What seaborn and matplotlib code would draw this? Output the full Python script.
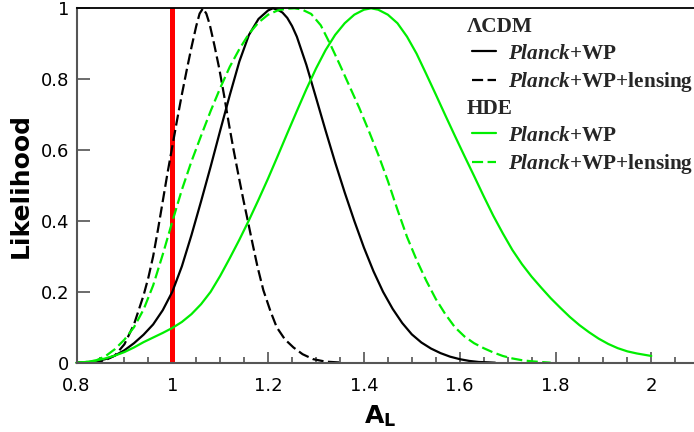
import matplotlib
matplotlib.use("Agg")
import matplotlib.pyplot as plt
import seaborn as sns
from matplotlib.ticker import MultipleLocator, FuncFormatter

sns.set_theme(style="white")
plt.rcParams['font.family'] = ['DejaVu Sans']
plt.rcParams['mathtext.fontset'] = 'custom'
plt.rcParams['mathtext.it'] = 'Liberation Serif:italic:bold'
plt.rcParams['mathtext.rm'] = 'Liberation Serif:bold'
plt.rcParams['mathtext.bf'] = 'Liberation Serif:bold'
plt.rcParams['mathtext.sf'] = 'DejaVu Sans:bold'

# Marginalised likelihood of the lensing amplitude A_L
lcdm_wp_x = [0.80, 0.82, 0.84, 0.86, 0.88, 0.90, 0.92, 0.94, 0.96, 0.98, 1.00, 1.02, 1.04,
             1.06, 1.08, 1.10, 1.12, 1.14, 1.16, 1.18, 1.20, 1.21, 1.22, 1.23, 1.24, 1.25,
             1.26, 1.28, 1.30, 1.32, 1.34, 1.36, 1.38, 1.40, 1.42, 1.44, 1.46, 1.48, 1.50,
             1.52, 1.54, 1.56, 1.58, 1.60, 1.62, 1.64, 1.66, 1.674]
lcdm_wp_y = [0.000, 0.001, 0.004, 0.010, 0.020, 0.035, 0.055, 0.079, 0.108, 0.148, 0.200, 0.272,
             0.360, 0.455, 0.553, 0.655, 0.755, 0.850, 0.925, 0.970, 0.994, 1.000, 0.996, 0.988,
             0.973, 0.950, 0.920, 0.840, 0.748, 0.655, 0.565, 0.480, 0.400, 0.325, 0.258,
             0.200, 0.152, 0.112, 0.080, 0.057, 0.040, 0.027, 0.017, 0.010, 0.005, 0.002,
             0.001, 0.000]

lcdm_lens_x = [0.80, 0.82, 0.84, 0.86, 0.88, 0.90, 0.92, 0.94, 0.95, 0.96, 0.97, 0.98, 0.99,
               1.00, 1.01, 1.02, 1.03, 1.04, 1.05, 1.057, 1.064, 1.071, 1.078, 1.088, 1.098,
               1.108, 1.118, 1.128, 1.138, 1.148, 1.158, 1.168, 1.178, 1.190, 1.205, 1.218,
               1.235, 1.253, 1.272, 1.294, 1.320, 1.357]
lcdm_lens_y = [0.000, 0.001, 0.002, 0.007, 0.020, 0.052, 0.108, 0.190, 0.240, 0.300, 0.375, 0.455,
               0.535, 0.610, 0.685, 0.757, 0.825, 0.890, 0.950, 0.985, 1.000, 0.985, 0.955,
               0.895, 0.830, 0.755, 0.675, 0.600, 0.530, 0.462, 0.398, 0.333, 0.270, 0.205,
               0.145, 0.100, 0.066, 0.043, 0.024, 0.010, 0.003, 0.000]

hde_wp_x = [0.80, 0.82, 0.84, 0.86, 0.88, 0.90, 0.92, 0.94, 0.96, 0.98, 1.00, 1.02, 1.04, 1.06,
            1.08, 1.10, 1.12, 1.14, 1.16, 1.18, 1.20, 1.22, 1.24, 1.26, 1.28, 1.30, 1.32, 1.34,
            1.36, 1.38, 1.40, 1.415, 1.43, 1.45, 1.47, 1.49, 1.51, 1.53, 1.55, 1.57, 1.59,
            1.61, 1.63, 1.65, 1.67, 1.69, 1.71, 1.73, 1.75, 1.77, 1.79, 1.81, 1.83, 1.85,
            1.87, 1.89, 1.91, 1.93, 1.95, 1.97, 2.00]
hde_wp_y = [0.000, 0.002, 0.006, 0.012, 0.020, 0.030, 0.043, 0.058, 0.071, 0.084, 0.098, 0.115,
            0.137, 0.165, 0.200, 0.245, 0.295, 0.347, 0.402, 0.460, 0.520, 0.583, 0.647, 0.710,
            0.772, 0.830, 0.882, 0.925, 0.958, 0.982, 0.996, 1.000, 0.996, 0.982, 0.958, 0.920,
            0.872, 0.815, 0.757, 0.698, 0.640, 0.583, 0.527, 0.470, 0.415, 0.365, 0.318, 0.278,
            0.243, 0.212, 0.182, 0.155, 0.129, 0.106, 0.086, 0.068, 0.053, 0.041, 0.032, 0.026,
            0.019]

hde_lens_x = [0.80, 0.82, 0.84, 0.86, 0.88, 0.90, 0.92, 0.94, 0.96, 0.98, 1.00, 1.02, 1.04, 1.06,
              1.08, 1.10, 1.12, 1.14, 1.16, 1.18, 1.20, 1.22, 1.24, 1.255, 1.27, 1.29, 1.31,
              1.33, 1.35, 1.37, 1.39, 1.41, 1.43, 1.45, 1.47, 1.49, 1.51, 1.53, 1.55, 1.57,
              1.59, 1.61, 1.63, 1.65, 1.67, 1.69, 1.71, 1.73, 1.75, 1.77, 1.79]
hde_lens_y = [0.000, 0.002, 0.006, 0.018, 0.038, 0.065, 0.100, 0.150, 0.218, 0.305, 0.398, 0.488,
              0.568, 0.640, 0.710, 0.775, 0.835, 0.885, 0.928, 0.960, 0.982, 0.994, 0.999, 1.000,
              0.997, 0.984, 0.952, 0.898, 0.840, 0.780, 0.720, 0.655, 0.587, 0.513, 0.432,
              0.355, 0.290, 0.232, 0.180, 0.137, 0.100, 0.074, 0.055, 0.041, 0.029, 0.019,
              0.012, 0.007, 0.004, 0.002, 0.000]

reference_AL = 1.0
model_names = ["\u039bCDM", "HDE"]
dataset_labels = [r"$\mathit{Planck}$+WP", r"$\mathit{Planck}$+WP+lensing"]

GREEN = "#00ee00"
DASH = (0, (5, 2))

fig = plt.figure(figsize=(6.94, 4.32), dpi=100)
ax = fig.add_axes([76.5 / 694, (432 - 362.7) / 432, (694 - 76.5) / 694, (362.7 - 8.3) / 432])

ax.axvline(reference_AL, color="red", lw=3.6, zorder=1.5)

curves = [
    (lcdm_wp_x, lcdm_wp_y, "black", "-"),
    (lcdm_lens_x, lcdm_lens_y, "black", DASH),
    (hde_wp_x, hde_wp_y, GREEN, "-"),
    (hde_lens_x, hde_lens_y, GREEN, DASH),
]
handles = []
for xs, ys, col, ls in curves:
    sns.lineplot(x=xs, y=ys, ax=ax, color=col, linestyle=ls, lw=1.6,
                 estimator=None, sort=False, zorder=2, clip_on=False)
    handles.append(ax.lines[-1])

ax.set_xlim(0.8, 0.8 + 617.5 / 479)
ax.set_ylim(0, 1)

ax.xaxis.set_major_locator(MultipleLocator(0.2))
ax.xaxis.set_minor_locator(MultipleLocator(0.05))
ax.yaxis.set_major_locator(MultipleLocator(0.2))
fmt = FuncFormatter(lambda v, p: f"{v:g}")
ax.xaxis.set_major_formatter(fmt)
ax.yaxis.set_major_formatter(fmt)

ax.tick_params(axis="x", which="major", direction="in", length=8, width=1.1,
               color="#444444", labelsize=13, pad=10, labelcolor="black", bottom=True)
ax.tick_params(axis="x", which="minor", direction="in", length=4.5, width=1.1,
               color="#444444", bottom=True)
ax.tick_params(axis="y", which="major", direction="in", length=9, width=1.1,
               color="#444444", labelsize=13, pad=5, labelcolor="black", left=True)

for side in ["left", "bottom"]:
    ax.spines[side].set_color("#555555")
    ax.spines[side].set_linewidth(1.5)
ax.spines["top"].set_color("black")
ax.spines["top"].set_linewidth(1.3)
ax.spines["right"].set_visible(False)

ax.set_ylabel("Likelihood", fontsize=18, fontweight="bold", labelpad=6, color="black")
ax.set_xlabel(r"$\mathsf{A}_{\mathsf{L}}$", fontsize=18, labelpad=6, color="black",
              x=(380 - 76.5) / 617.5)

leg_kw = dict(frameon=False, loc="upper left", borderpad=0, borderaxespad=0,
              handlelength=1.15, handletextpad=0.55, labelspacing=0.31,
              prop={"family": "Liberation Serif", "weight": "bold", "size": 15.3},
              title_fontproperties={"family": "Liberation Serif", "weight": "bold",
                                    "size": 15.3},
              alignment="left", bbox_transform=fig.transFigure)
leg1 = ax.legend(handles[:2], dataset_labels, title=model_names[0],
                 bbox_to_anchor=(472 / 694, 1 - 17 / 432), **leg_kw)
ax.add_artist(leg1)
leg2 = ax.legend(handles[2:], dataset_labels, title=model_names[1],
                 bbox_to_anchor=(472 / 694, 1 - 99 / 432), **leg_kw)
for leg in (leg1, leg2):
    leg.get_title().set_x(-5)

fig.savefig("out.png", dpi=100)
